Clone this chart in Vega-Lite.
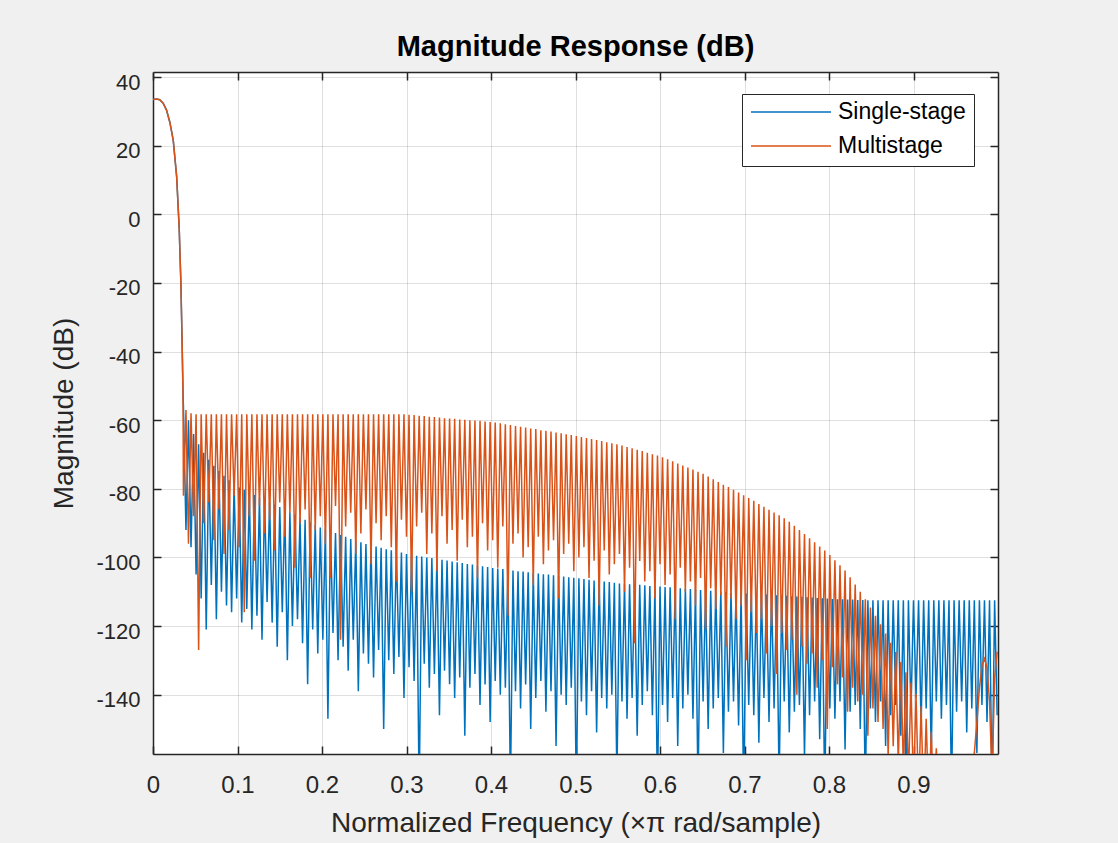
{
"$schema": "https://vega.github.io/schema/vega-lite/v6.json",
"width": 845, "height": 682,
"autosize": {"type": "none"},
"padding": {"left": 153, "top": 72, "right": 120, "bottom": 89},
"background": "#f0f0f0",
"title": {"text": "Magnitude Response (dB)", "font": "Liberation Sans", "fontSize": 29, "fontWeight": "bold", "color": "#000000", "anchor": "middle", "frame": "group", "baseline": "alphabetic", "offset": -14},
"config": {
  "view": {"fill": "white", "stroke": null},
  "axis": {"labelFont": "Liberation Sans", "titleFont": "Liberation Sans", "labelColor": "#262626", "titleColor": "#262626", "domainColor": "#262626", "tickColor": "#262626", "gridColor": "#262626", "gridOpacity": 0.15, "domainWidth": 1.5, "tickWidth": 1.5, "tickSize": -8, "titleFontWeight": "normal", "zindex": 1, "labelFlush": false}
},
"layer": [
 {
  "data": {"values": [
{"f":0,"s":33.5,"m":33.5},{"f":0.004,"s":33.6,"m":33.6},{"f":0.008,"s":33.4,"m":33.4},{"f":0.012,"s":32.4,"m":32.4},{"f":0.016,"s":30.4,"m":30.4},{"f":0.02,"s":26.8,"m":26.8},{"f":0.024,"s":21.5,"m":21.5},{"f":0.028,"s":11,"m":11},{"f":0.031,"s":-4,"m":-4},{"f":0.033,"s":-20,"m":-20},{"f":0.0345,"s":-38,"m":-38},{"f":0.0355,"s":-52,"m":-52},
{"f":0.036,"s":-56,"m":-82},{"f":0.039,"s":-92,"m":-57},{"f":0.042,"s":-60,"m":-96},{"f":0.045,"s":-97,"m":-58},{"f":0.048,"s":-64,"m":-88},{"f":0.051,"s":-105,"m":-58.3},{"f":0.054,"s":-67,"m":-127},{"f":0.057,"s":-112,"m":-58.3},{"f":0.06,"s":-69.5,"m":-90},{"f":0.063,"s":-121,"m":-58.3},
{"f":0.066,"s":-71.5,"m":-84},{"f":0.069,"s":-108,"m":-58.3},{"f":0.072,"s":-73.3,"m":-95},{"f":0.075,"s":-118,"m":-58.3},{"f":0.078,"s":-74.8,"m":-86},{"f":0.081,"s":-110,"m":-58.3},{"f":0.084,"s":-76.2,"m":-99},{"f":0.087,"s":-114,"m":-58.3},{"f":0.09,"s":-77.5,"m":-92},{"f":0.093,"s":-116,"m":-58.3},
{"f":0.096,"s":-78.7,"m":-82},{"f":0.099,"s":-112,"m":-58.3},{"f":0.102,"s":-79.6,"m":-97},{"f":0.105,"s":-119,"m":-58.3},{"f":0.108,"s":-80.3,"m":-116},{"f":0.111,"s":-115,"m":-58.3},{"f":0.114,"s":-81,"m":-88},{"f":0.117,"s":-121,"m":-58.3},{"f":0.12,"s":-81.8,"m":-101},{"f":0.123,"s":-117,"m":-58.3},
{"f":0.126,"s":-82.5,"m":-85},{"f":0.129,"s":-124,"m":-58.3},{"f":0.132,"s":-83.2,"m":-93},{"f":0.135,"s":-113,"m":-58.3},{"f":0.138,"s":-83.9,"m":-89},{"f":0.141,"s":-119,"m":-58.3},{"f":0.144,"s":-84.6,"m":-98},{"f":0.147,"s":-126,"m":-58.3},{"f":0.15,"s":-85.3,"m":-84},{"f":0.153,"s":-116,"m":-58.3},
{"f":0.156,"s":-86,"m":-94},{"f":0.159,"s":-130,"m":-58.3},{"f":0.162,"s":-86.8,"m":-87},{"f":0.165,"s":-120,"m":-58.3},{"f":0.168,"s":-87.5,"m":-103},{"f":0.171,"s":-118,"m":-58.3},{"f":0.174,"s":-88.3,"m":-90},{"f":0.177,"s":-125,"m":-58.3},{"f":0.18,"s":-89,"m":-86},{"f":0.183,"s":-137,"m":-58.3},
{"f":0.186,"s":-89.8,"m":-106},{"f":0.189,"s":-121,"m":-58.3},{"f":0.192,"s":-90.5,"m":-92},{"f":0.195,"s":-128,"m":-58.3},{"f":0.198,"s":-91.3,"m":-88},{"f":0.201,"s":-124,"m":-58.3},{"f":0.204,"s":-91.9,"m":-96},{"f":0.207,"s":-147,"m":-58.3},{"f":0.21,"s":-92.4,"m":-106},{"f":0.213,"s":-122,"m":-58.3},
{"f":0.216,"s":-92.9,"m":-85},{"f":0.219,"s":-130,"m":-58.3},{"f":0.222,"s":-93.5,"m":-124},{"f":0.225,"s":-126,"m":-58.3},{"f":0.228,"s":-94,"m":-91},{"f":0.231,"s":-133,"m":-58.3},{"f":0.234,"s":-94.6,"m":-87},{"f":0.237,"s":-124,"m":-58.3},{"f":0.24,"s":-95.1,"m":-99},{"f":0.243,"s":-139,"m":-58.3},
{"f":0.246,"s":-95.6,"m":-93},{"f":0.249,"s":-128,"m":-58.3},{"f":0.252,"s":-96.1,"m":-86},{"f":0.255,"s":-131,"m":-58.3},{"f":0.258,"s":-96.5,"m":-102},{"f":0.261,"s":-135,"m":-58.3},{"f":0.264,"s":-96.8,"m":-90},{"f":0.267,"s":-127,"m":-58.3},{"f":0.27,"s":-97.2,"m":-95},{"f":0.273,"s":-150,"m":-58.3},
{"f":0.276,"s":-97.6,"m":-88},{"f":0.279,"s":-130,"m":-58.3},{"f":0.282,"s":-97.9,"m":-97},{"f":0.285,"s":-134,"m":-58.3},{"f":0.288,"s":-98.3,"m":-107},{"f":0.291,"s":-129,"m":-58.3},{"f":0.294,"s":-98.6,"m":-89},{"f":0.297,"s":-141,"m":-58.3},{"f":0.3,"s":-99,"m":-94},{"f":0.303,"s":-132,"m":-58.4},
{"f":0.306,"s":-99.2,"m":-110},{"f":0.309,"s":-136,"m":-58.5},{"f":0.312,"s":-99.5,"m":-91},{"f":0.315,"s":-170,"m":-58.7},{"f":0.318,"s":-99.7,"m":-87},{"f":0.321,"s":-131,"m":-58.8},{"f":0.324,"s":-100,"m":-99},{"f":0.327,"s":-138,"m":-59},{"f":0.33,"s":-100.2,"m":-93},{"f":0.333,"s":-134,"m":-59.1},
{"f":0.336,"s":-100.4,"m":-104},{"f":0.339,"s":-146,"m":-59.2},{"f":0.342,"s":-100.7,"m":-88},{"f":0.345,"s":-133,"m":-59.4},{"f":0.348,"s":-100.9,"m":-96},{"f":0.351,"s":-137,"m":-59.5},{"f":0.354,"s":-101.2,"m":-92},{"f":0.357,"s":-141,"m":-59.6},{"f":0.36,"s":-101.4,"m":-101},{"f":0.363,"s":-135,"m":-59.8},
{"f":0.366,"s":-101.6,"m":-89},{"f":0.369,"s":-152,"m":-59.9},{"f":0.372,"s":-101.9,"m":-97},{"f":0.375,"s":-138,"m":-60},{"f":0.378,"s":-102.1,"m":-94},{"f":0.381,"s":-134,"m":-60.1},{"f":0.384,"s":-102.4,"m":-106},{"f":0.387,"s":-143,"m":-60.2},{"f":0.39,"s":-102.6,"m":-90},{"f":0.393,"s":-137,"m":-60.4},
{"f":0.396,"s":-102.8,"m":-98},{"f":0.399,"s":-148,"m":-60.5},{"f":0.402,"s":-103.1,"m":-95},{"f":0.405,"s":-136,"m":-60.7},{"f":0.408,"s":-103.2,"m":-103},{"f":0.411,"s":-140,"m":-60.9},{"f":0.414,"s":-103.4,"m":-91},{"f":0.417,"s":-138,"m":-61.2},{"f":0.42,"s":-103.6,"m":-117},{"f":0.423,"s":-168,"m":-61.4},
{"f":0.426,"s":-103.8,"m":-96},{"f":0.429,"s":-139,"m":-61.7},{"f":0.432,"s":-104,"m":-93},{"f":0.435,"s":-144,"m":-61.9},{"f":0.438,"s":-104.1,"m":-100},{"f":0.441,"s":-137,"m":-62.1},{"f":0.444,"s":-104.3,"m":-97},{"f":0.447,"s":-150,"m":-62.4},{"f":0.45,"s":-104.5,"m":-108},{"f":0.453,"s":-141,"m":-62.6},
{"f":0.456,"s":-104.7,"m":-94},{"f":0.459,"s":-136,"m":-62.9},{"f":0.462,"s":-104.9,"m":-102},{"f":0.465,"s":-145,"m":-63.1},{"f":0.468,"s":-105,"m":-98},{"f":0.471,"s":-139,"m":-63.3},{"f":0.474,"s":-105.2,"m":-95},{"f":0.477,"s":-155,"m":-63.6},{"f":0.48,"s":-105.4,"m":-112},{"f":0.483,"s":-140,"m":-63.8},
{"f":0.486,"s":-105.6,"m":-99},{"f":0.489,"s":-143,"m":-64.1},{"f":0.492,"s":-105.8,"m":-96},{"f":0.495,"s":-138,"m":-64.3},{"f":0.498,"s":-105.9,"m":-104},{"f":0.501,"s":-170,"m":-64.6},{"f":0.504,"s":-106.1,"m":-100},{"f":0.507,"s":-142,"m":-64.9},{"f":0.51,"s":-106.3,"m":-97},{"f":0.513,"s":-146,"m":-65.2},
{"f":0.516,"s":-106.5,"m":-106},{"f":0.519,"s":-139,"m":-65.5},{"f":0.522,"s":-106.7,"m":-101},{"f":0.525,"s":-151,"m":-65.8},{"f":0.528,"s":-106.8,"m":-114},{"f":0.531,"s":-141,"m":-66.1},{"f":0.534,"s":-107,"m":-98},{"f":0.537,"s":-144,"m":-66.4},{"f":0.54,"s":-107.2,"m":-105},{"f":0.543,"s":-140,"m":-66.7},
{"f":0.546,"s":-107.4,"m":-102},{"f":0.549,"s":-165,"m":-67},{"f":0.552,"s":-107.6,"m":-99},{"f":0.555,"s":-142,"m":-67.4},{"f":0.558,"s":-107.7,"m":-110},{"f":0.561,"s":-147,"m":-67.8},{"f":0.564,"s":-107.8,"m":-103},{"f":0.567,"s":-141,"m":-68.2},{"f":0.57,"s":-107.9,"m":-125},{"f":0.573,"s":-152,"m":-68.6},
{"f":0.576,"s":-108,"m":-101},{"f":0.579,"s":-143,"m":-69},{"f":0.582,"s":-108.1,"m":-107},{"f":0.585,"s":-139,"m":-69.5},{"f":0.588,"s":-108.3,"m":-104},{"f":0.591,"s":-146,"m":-69.9},{"f":0.594,"s":-108.4,"m":-112},{"f":0.597,"s":-170,"m":-70.3},{"f":0.6,"s":-108.5,"m":-102},{"f":0.603,"s":-143,"m":-70.8},
{"f":0.606,"s":-108.6,"m":-108},{"f":0.609,"s":-148,"m":-71.4},{"f":0.612,"s":-108.7,"m":-105},{"f":0.615,"s":-141,"m":-72},{"f":0.618,"s":-108.9,"m":-118},{"f":0.621,"s":-155,"m":-72.6},{"f":0.624,"s":-109,"m":-103},{"f":0.627,"s":-144,"m":-73.2},{"f":0.63,"s":-109.1,"m":-110},{"f":0.633,"s":-140,"m":-73.8},
{"f":0.636,"s":-109.2,"m":-107},{"f":0.639,"s":-147,"m":-74.4},{"f":0.642,"s":-109.3,"m":-114},{"f":0.645,"s":-168,"m":-75},{"f":0.648,"s":-109.5,"m":-106},{"f":0.651,"s":-142,"m":-75.6},{"f":0.654,"s":-109.6,"m":-121},{"f":0.657,"s":-150,"m":-76.4},{"f":0.66,"s":-109.7,"m":-109},{"f":0.663,"s":-144,"m":-77.2},
{"f":0.666,"s":-109.8,"m":-115},{"f":0.669,"s":-141,"m":-78},{"f":0.672,"s":-109.9,"m":-111},{"f":0.675,"s":-157,"m":-78.8},{"f":0.678,"s":-110.1,"m":-126},{"f":0.681,"s":-145,"m":-79.5},{"f":0.684,"s":-110.2,"m":-112},{"f":0.687,"s":-142,"m":-80.3},{"f":0.69,"s":-110.3,"m":-118},{"f":0.693,"s":-149,"m":-81.1},
{"f":0.696,"s":-110.4,"m":-114},{"f":0.699,"s":-170,"m":-81.9},{"f":0.702,"s":-110.5,"m":-130},{"f":0.705,"s":-143,"m":-82.7},{"f":0.708,"s":-110.6,"m":-116},{"f":0.711,"s":-146,"m":-83.5},{"f":0.714,"s":-110.7,"m":-122},{"f":0.717,"s":-154,"m":-84.4},{"f":0.72,"s":-110.8,"m":-118},{"f":0.723,"s":-141,"m":-85.2},
{"f":0.726,"s":-110.8,"m":-128},{"f":0.729,"s":-148,"m":-86.1},{"f":0.732,"s":-110.9,"m":-120},{"f":0.735,"s":-144,"m":-86.9},{"f":0.738,"s":-111,"m":-134},{"f":0.741,"s":-166,"m":-87.7},{"f":0.744,"s":-111.1,"m":-122},{"f":0.747,"s":-142,"m":-88.6},{"f":0.75,"s":-111.2,"m":-127},{"f":0.753,"s":-151,"m":-89.6},
{"f":0.756,"s":-111.3,"m":-124},{"f":0.759,"s":-145,"m":-90.8},{"f":0.762,"s":-111.4,"m":-140},{"f":0.765,"s":-143,"m":-92},{"f":0.768,"s":-111.5,"m":-126},{"f":0.771,"s":-158,"m":-93.2},{"f":0.774,"s":-111.6,"m":-131},{"f":0.777,"s":-146,"m":-94.4},{"f":0.78,"s":-111.7,"m":-128},{"f":0.783,"s":-142,"m":-95.6},
{"f":0.786,"s":-111.8,"m":-138},{"f":0.789,"s":-153,"m":-96.8},{"f":0.792,"s":-111.9,"m":-130},{"f":0.795,"s":-170,"m":-98},{"f":0.798,"s":-112,"m":-150},{"f":0.801,"s":-144,"m":-99.3},{"f":0.804,"s":-112.1,"m":-132},{"f":0.807,"s":-147,"m":-100.8},{"f":0.81,"s":-112.2,"m":-137},{"f":0.813,"s":-142,"m":-102.3},
{"f":0.816,"s":-112.2,"m":-135},{"f":0.819,"s":-156,"m":-103.8},{"f":0.822,"s":-112.3,"m":-145},{"f":0.825,"s":-145,"m":-105.8},{"f":0.828,"s":-112.3,"m":-138},{"f":0.831,"s":-143,"m":-107.9},{"f":0.834,"s":-112.4,"m":-142},{"f":0.837,"s":-150,"m":-110},{"f":0.84,"s":-112.4,"m":-140},{"f":0.843,"s":-170,"m":-112.2},
{"f":0.846,"s":-112.5,"m":-152},{"f":0.849,"s":-144,"m":-114.6},{"f":0.852,"s":-112.5,"m":-144},{"f":0.855,"s":-148,"m":-117},{"f":0.858,"s":-112.5,"m":-148},{"f":0.861,"s":-142,"m":-119.5},{"f":0.864,"s":-112.5,"m":-150},{"f":0.867,"s":-155,"m":-122.2},{"f":0.87,"s":-112.5,"m":-158},{"f":0.873,"s":-146,"m":-124.9},
{"f":0.876,"s":-112.5,"m":-155},{"f":0.879,"s":-143,"m":-127.6},{"f":0.882,"s":-112.5,"m":-160},{"f":0.885,"s":-152,"m":-130.5},{"f":0.888,"s":-112.5,"m":-162},{"f":0.891,"s":-168,"m":-133.5},{"f":0.894,"s":-112.5,"m":-165},{"f":0.897,"s":-145,"m":-136.5},{"f":0.9,"s":-112.5,"m":-168},{"f":0.903,"s":-141,"m":-139.8},
{"f":0.906,"s":-112.5,"m":-170},{"f":0.909,"s":-149,"m":-143.4},{"f":0.912,"s":-112.5,"m":-172},{"f":0.915,"s":-144,"m":-147},{"f":0.918,"s":-112.5,"m":-172},{"f":0.921,"s":-158,"m":-150.8},{"f":0.924,"s":-112.5,"m":-172},{"f":0.927,"s":-142,"m":-155.6},{"f":0.93,"s":-112.5,"m":-172},{"f":0.933,"s":-147,"m":-160},
{"f":0.936,"s":-112.5,"m":-175},{"f":0.939,"s":-143,"m":-166},{"f":0.942,"s":-112.5,"m":-175},{"f":0.945,"s":-170,"m":-170},{"f":0.948,"s":-112.5,"m":-178},{"f":0.951,"s":-145,"m":-172},{"f":0.954,"s":-112.5,"m":-178},{"f":0.957,"s":-142,"m":-170},{"f":0.96,"s":-112.5,"m":-176},{"f":0.963,"s":-151,"m":-166},
{"f":0.966,"s":-112.5,"m":-172},{"f":0.969,"s":-144,"m":-162},{"f":0.972,"s":-112.5,"m":-157},{"f":0.975,"s":-157,"m":-148},{"f":0.978,"s":-112.5,"m":-138},{"f":0.981,"s":-143,"m":-131.5},{"f":0.984,"s":-112.5,"m":-129.5},{"f":0.987,"s":-148,"m":-132},{"f":0.99,"s":-112.5,"m":-142},{"f":0.993,"s":-170,"m":-165},
{"f":0.996,"s":-112.5,"m":-135},{"f":0.999,"s":-146,"m":-127.5}
  ]},
  "transform": [{"fold": ["s", "m"], "as": ["series", "v"]}],
  "mark": {"type": "line", "strokeWidth": 1.5, "clip": true},
  "encoding": {
    "x": {"field": "f", "type": "quantitative", "scale": {"domain": [0, 1], "nice": false, "zero": false},
      "axis": {"orient": "bottom", "values": [0, 0.1, 0.2, 0.3, 0.4, 0.5, 0.6, 0.7, 0.8, 0.9], "labelExpr": "'' + datum.value", "labelFontSize": 24, "labelBaseline": "alphabetic", "labelPadding": 46, "grid": true,
        "title": "Normalized Frequency (×π rad/sample)", "titleFontSize": 28, "titleBaseline": "alphabetic", "titleY": 77}},
    "y": {"field": "v", "type": "quantitative", "scale": {"domain": [-157.3, 41.5], "nice": false, "zero": false},
      "axis": {"orient": "left", "values": [-140, -120, -100, -80, -60, -40, -20, 0, 20, 40], "labelExpr": "'' + datum.value", "labelFontSize": 22, "labelBaseline": "middle", "labelOffset": 5, "labelPadding": 21, "grid": true,
        "title": "Magnitude (dB)", "titleFontSize": 28, "titleBaseline": "alphabetic", "titleX": -81}},
    "color": {"field": "series", "type": "nominal", "sort": ["s", "m"], "scale": {"domain": ["s", "m"], "range": ["#0072BD", "#D95319"]},
      "legend": {"orient": "none", "legendX": 589, "legendY": 22, "direction": "vertical", "title": null, "symbolType": "stroke", "symbolSize": 6400, "symbolStrokeWidth": 1.5, "labelFont": "Liberation Sans", "labelFontSize": 23, "labelColor": "#000000", "padding": 8, "strokeColor": "#262626", "fillColor": "#ffffff", "clipHeight": 20, "rowPadding": 11, "labelOffset": 6, "labelLimit": 0, "labelExpr": "datum.label == 's' ? 'Single-stage' : 'Multistage'"}}
  }
 },
 {
  "data": {"values": [{"f": 0, "v": 0}]},
  "mark": {"type": "point", "opacity": 0},
  "encoding": {
    "x": {"field": "f", "type": "quantitative", "scale": {"domain": [0, 1], "nice": false, "zero": false},
      "axis": {"orient": "top", "values": [0, 0.1, 0.2, 0.3, 0.4, 0.5, 0.6, 0.7, 0.8, 0.9], "labels": false, "grid": false, "title": null}},
    "y": {"field": "v", "type": "quantitative", "scale": {"domain": [-157.3, 41.5], "nice": false, "zero": false},
      "axis": {"orient": "right", "values": [-140, -120, -100, -80, -60, -40, -20, 0, 20, 40], "labels": false, "grid": false, "title": null}}
  }
 }
],
"resolve": {"axis": {"x": "independent", "y": "independent"}}
}
